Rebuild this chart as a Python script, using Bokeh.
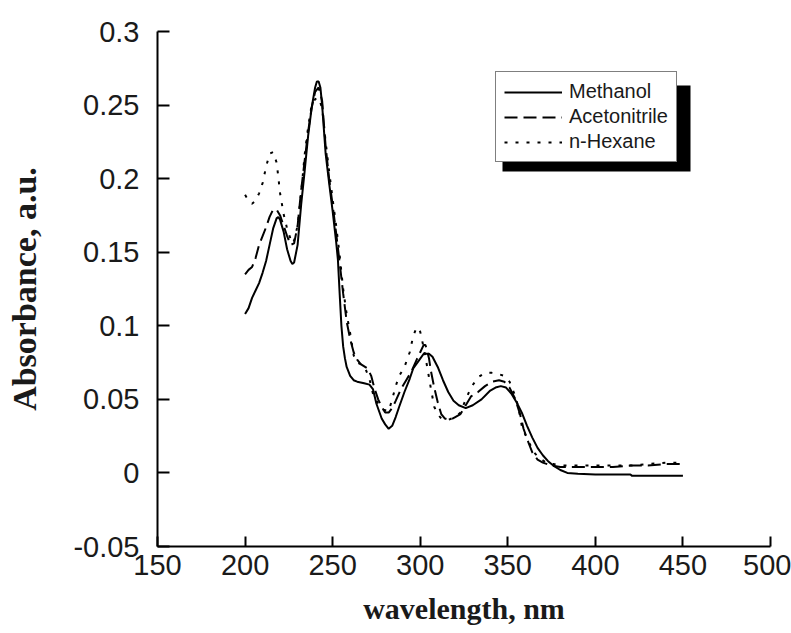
from bokeh.plotting import figure
from bokeh.models import (Range1d, FixedTicker, CustomJSTickFormatter, Legend,
                          LegendItem, BoxAnnotation)
from bokeh.embed import file_html
from bokeh.resources import INLINE

# ---------------- data ----------------
wl_methanol = [200, 202, 204, 206, 208, 210, 212, 214, 216, 218, 219, 220, 222, 224,
               226, 227, 228, 230, 232, 234, 236, 238, 240, 241, 242, 243, 244, 246,
               248, 250, 252, 253, 254, 255, 256, 257, 258, 260, 262, 264, 268, 271,
               273, 275, 278, 280, 282, 284, 286, 288, 291, 294, 296, 299, 302, 305,
               307, 310, 313, 316, 319, 322, 326, 330, 335, 340, 343, 346, 349, 352,
               355, 358, 361, 364, 367, 370, 373, 376, 380, 384, 390, 400, 410, 420,
               421, 430, 440, 450]
abs_methanol = [0.108, 0.112, 0.119, 0.124, 0.129, 0.136, 0.144, 0.155, 0.166, 0.173,
                0.174, 0.172, 0.164, 0.152, 0.144, 0.142, 0.143, 0.155, 0.182, 0.205,
                0.229, 0.248, 0.262, 0.266, 0.266, 0.262, 0.250, 0.217, 0.197, 0.178,
                0.157, 0.145, 0.122, 0.100, 0.086, 0.078, 0.072, 0.066, 0.063, 0.062,
                0.061, 0.060, 0.057, 0.047, 0.037, 0.033, 0.030, 0.032, 0.038, 0.045,
                0.055, 0.064, 0.071, 0.076, 0.081, 0.081, 0.079, 0.072, 0.063, 0.055,
                0.049, 0.046, 0.044, 0.046, 0.050, 0.056, 0.058, 0.059, 0.058, 0.054,
                0.048, 0.041, 0.032, 0.024, 0.017, 0.012, 0.008, 0.005, 0.002, 0.000,
                -0.0005, -0.001, -0.001, -0.001, -0.002, -0.002, -0.002, -0.002]

wl_acetonitrile = [200, 202, 204, 206, 208, 210, 212, 214, 216, 218, 220, 222, 224, 226,
                   228, 230, 232, 234, 236, 238, 240, 242, 244, 246, 248, 250, 252, 254,
                   256, 258, 260, 262, 264, 266, 270, 272, 274, 276, 278, 280, 282, 284,
                   286, 289, 292, 295, 298, 300, 302, 303, 305, 306, 308, 310, 312, 314,
                   317, 320, 323, 326, 329, 333, 337, 341, 345, 348, 351, 354, 357, 359,
                   362, 364, 367, 370, 375, 380, 390, 400, 410, 420, 430, 440, 450]
abs_acetonitrile = [0.135, 0.138, 0.140, 0.146, 0.155, 0.161, 0.167, 0.174, 0.179, 0.179,
                    0.175, 0.168, 0.161, 0.155, 0.156, 0.168, 0.192, 0.212, 0.232, 0.248,
                    0.259, 0.262, 0.253, 0.222, 0.200, 0.182, 0.163, 0.143, 0.122, 0.103,
                    0.091, 0.082, 0.077, 0.074, 0.071, 0.066, 0.057, 0.050, 0.045, 0.041,
                    0.041, 0.044, 0.049, 0.057, 0.063, 0.069, 0.077, 0.082, 0.087, 0.087,
                    0.078, 0.070, 0.058, 0.048, 0.040, 0.037, 0.036, 0.038, 0.040, 0.046,
                    0.052, 0.055, 0.059, 0.062, 0.063, 0.062, 0.058, 0.051, 0.040, 0.030,
                    0.020, 0.014, 0.009, 0.007, 0.005, 0.004, 0.004, 0.004, 0.004, 0.005,
                    0.005, 0.006, 0.006]

wl_hexane = [200, 202, 204, 206, 208, 210, 212, 214, 216, 218, 219, 220, 222, 224, 226,
             227, 228, 230, 232, 234, 236, 238, 240, 242, 244, 246, 248, 250, 252, 254,
             256, 258, 260, 262, 264, 268, 271, 273, 276, 279, 282, 284, 286, 288, 291,
             294, 296, 298, 300, 302, 304, 306, 308, 310, 312, 316, 320, 323, 326, 329,
             333, 337, 341, 345, 348, 351, 354, 356, 358, 360, 362, 365, 368, 372, 376,
             380, 390, 400, 410, 420, 430, 440, 450]
abs_hexane = [0.189, 0.185, 0.183, 0.185, 0.190, 0.197, 0.208, 0.217, 0.218, 0.211,
              0.201, 0.190, 0.176, 0.166, 0.159, 0.156, 0.158, 0.168, 0.190, 0.216,
              0.235, 0.250, 0.254, 0.255, 0.248, 0.225, 0.205, 0.186, 0.168, 0.148,
              0.125, 0.108, 0.095, 0.080, 0.075, 0.073, 0.064, 0.054, 0.047, 0.043,
              0.042, 0.050, 0.059, 0.066, 0.072, 0.082, 0.093, 0.099, 0.096, 0.085,
              0.072, 0.058, 0.045, 0.040, 0.037, 0.036, 0.038, 0.041, 0.050, 0.058,
              0.065, 0.068, 0.068, 0.067, 0.066, 0.062, 0.053, 0.045, 0.032, 0.026,
              0.021, 0.014, 0.010, 0.007, 0.006, 0.005, 0.005, 0.005, 0.005, 0.005,
              0.006, 0.007, 0.007]

series_names = ["Methanol", "Acetonitrile", "n-Hexane"]
x_ticks = [150, 200, 250, 300, 350, 400, 450, 500]
y_ticks = [-0.05, 0, 0.05, 0.1, 0.15, 0.2, 0.25, 0.3]

# ---------------- figure ----------------
W, H = 791, 633
BL, BR, BT, BB = 157, 21, 31, 87
p = figure(width=W, height=H, output_backend="svg", toolbar_location=None,
           x_range=Range1d(150, 500), y_range=Range1d(-0.05, 0.3),
           min_border_left=BL, min_border_right=BR, min_border_top=BT,
           min_border_bottom=BB)
p.outline_line_color = None
p.grid.visible = False
p.background_fill_color = "white"
p.border_fill_color = "white"

tick_font = "Liberation Sans"
for ax in (p.xaxis[0], p.yaxis[0]):
    ax.axis_line_width = 2
    ax.axis_line_color = "black"
    ax.major_tick_line_width = 2
    ax.major_tick_line_color = "black"
    ax.minor_tick_line_color = None
    ax.major_tick_out = 0
    ax.major_label_text_font = tick_font
    ax.major_label_text_font_size = "29px"
    ax.major_label_text_color = "#1a1a1a"
    ax.axis_label_text_font = "Liberation Serif"
    ax.axis_label_text_font_style = "bold"
    ax.axis_label_text_color = "#1a1a1a"

p.xaxis.ticker = FixedTicker(ticks=x_ticks)
p.yaxis.ticker = FixedTicker(ticks=y_ticks)
p.yaxis.formatter = CustomJSTickFormatter(code="return String(Math.round(tick*100)/100)")
p.xaxis.major_tick_in = 10
p.yaxis.major_tick_in = 12
p.xaxis.major_label_standoff = 8
p.yaxis.major_label_standoff = 18
p.xaxis.axis_label = "wavelength, nm"
p.yaxis.axis_label = "Absorbance, a.u."
p.xaxis.axis_label_text_font_size = "30px"
p.yaxis.axis_label_text_font_size = "34px"
p.xaxis.axis_label_standoff = 14
p.yaxis.axis_label_standoff = 27

r_m = p.line(wl_methanol, abs_methanol, line_color="black", line_width=2)
r_a = p.line(wl_acetonitrile, abs_acetonitrile, line_color="black", line_width=2,
             line_dash="13 6")
r_h = p.line(wl_hexane, abs_hexane, line_color="black", line_width=2,
             line_dash="3 8")

# ---------------- legend with drop shadow ----------------
fw = W - BL - BR
fh = H - BT - BB
def px_to_x(px):
    return 150 + (px - BL) * 350.0 / fw
def py_to_y(py):
    return 0.3 - (py - BT) * 0.35 / fh

leg_left, leg_top, leg_right, leg_bottom = 495, 76, 683, 162
shadow_dx, shadow_dy = 7, 9
shadow = BoxAnnotation(left=px_to_x(leg_left + shadow_dx), right=px_to_x(leg_right + shadow_dx),
                       top=py_to_y(leg_top + shadow_dy), bottom=py_to_y(leg_bottom + shadow_dy),
                       fill_color="black", fill_alpha=1.0, line_color=None)
p.add_layout(shadow)

legend = Legend(items=[LegendItem(label=series_names[0], renderers=[r_m]),
                       LegendItem(label=series_names[1], renderers=[r_a]),
                       LegendItem(label=series_names[2], renderers=[r_h])],
                location=(leg_left - BL, (H - BB) - leg_bottom))
legend.border_line_color = "black"
legend.border_line_width = 1.5
legend.background_fill_color = "white"
legend.background_fill_alpha = 1.0
legend.label_text_font = tick_font
legend.label_text_font_size = "20px"
legend.label_text_color = "#1a1a1a"
legend.glyph_width = 58
legend.glyph_height = 22
legend.label_height = 22
legend.label_standoff = 7
legend.spacing = 2
legend.padding = 8
legend.margin = 0
p.add_layout(legend)

open("out.html", "w").write(file_html(p, INLINE))
